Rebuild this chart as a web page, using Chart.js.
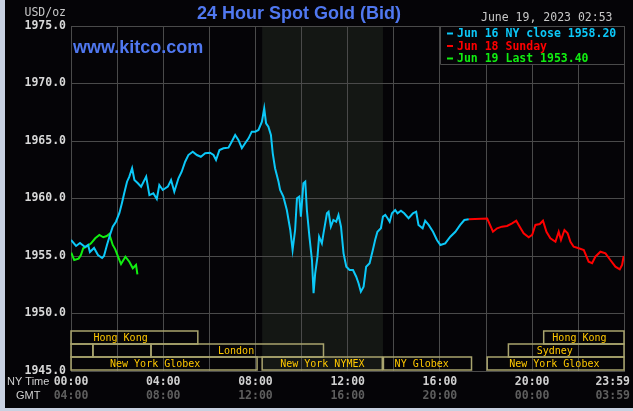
<!DOCTYPE html>
<html>
<head>
<meta charset="utf-8">
<script src="https://cdn.jsdelivr.net/npm/chart.js@4.4.0/dist/chart.umd.min.js"></script>
<style>
  body { margin: 0; background: #c9d1e1; }
  canvas { display: block; }
</style>
</head>
<body>
<canvas id="gold" width="633" height="411"></canvas>
<script>
// NY time in hours, bid in USD/oz
const jun16Hours = [
  0.00,0.22,0.39,0.61,0.74,0.82,1.00,1.17,1.35,1.43,
  1.56,1.69,1.81,1.95,2.10,2.21,2.31,2.43,2.53,2.65,
  2.75,2.89,3.04,3.26,3.40,3.57,3.72,3.83,3.98,4.20,
  4.34,4.48,4.66,4.80,4.95,5.09,5.28,5.46,5.63,5.82,
  6.03,6.18,6.29,6.44,6.61,6.83,6.97,7.12,7.26,7.41,
  7.55,7.70,7.84,7.99,8.13,8.28,8.38,8.46,8.56,8.67,
  8.75,8.85,9.00,9.07,9.21,9.36,9.51,9.61,9.72,9.80,
  9.90,9.97,10.08,10.16,10.23,10.34,10.45,10.52,10.59,10.69,
  10.76,10.88,10.95,11.10,11.17,11.27,11.38,11.50,11.60,11.71,
  11.82,11.94,12.08,12.23,12.37,12.47,12.57,12.69,12.80,12.95,
  13.09,13.19,13.29,13.44,13.53,13.63,13.73,13.82,13.92,14.06,
  14.16,14.31,14.45,14.64,14.83,14.97,15.07,15.25,15.36,15.51,
  15.70,15.87,16.02,16.23,16.45,16.67,16.88,17.06,17.25
];
const jun16Values = [
  1956.39,1955.87,1956.13,1955.78,1955.96,1955.35,1955.70,1955.09,1954.83,1955.00,
  1955.96,1956.83,1957.55,1957.98,1958.74,1959.61,1960.48,1961.46,1961.90,1962.63,
  1961.61,1961.35,1961.03,1961.90,1960.30,1960.45,1959.96,1961.17,1960.74,1961.03,
  1961.61,1960.59,1961.76,1962.33,1963.20,1963.78,1964.07,1963.78,1963.63,1963.93,
  1963.98,1963.78,1963.35,1964.22,1964.37,1964.42,1964.94,1965.52,1965.09,1964.37,
  1964.80,1965.23,1965.81,1965.81,1965.96,1966.68,1967.84,1966.54,1966.24,1965.52,
  1963.93,1962.63,1961.46,1960.74,1960.16,1959.00,1957.26,1955.52,1957.26,1960.02,
  1960.16,1958.42,1961.32,1961.46,1959.00,1956.68,1954.65,1951.76,1953.50,1954.94,
  1956.68,1956.10,1956.97,1958.71,1958.85,1957.55,1958.13,1957.98,1958.57,1957.55,
  1955.23,1954.07,1953.78,1953.78,1953.20,1952.63,1951.90,1952.33,1954.07,1954.37,
  1955.52,1956.39,1957.11,1957.41,1958.42,1958.57,1958.28,1957.98,1958.71,1959.00,
  1958.71,1958.94,1958.71,1958.28,1958.71,1958.85,1957.70,1957.41,1958.07,1957.70,
  1957.11,1956.39,1955.96,1956.10,1956.68,1957.11,1957.70,1958.13,1958.20
];

const jun18Hours = [
  17.25,18.05,18.30,18.48,18.69,18.91,19.13,19.31,19.46,19.63,
  19.85,20.00,20.14,20.33,20.47,20.62,20.79,21.01,21.15,21.25,
  21.40,21.54,21.66,21.80,22.02,22.24,22.45,22.60,22.74,22.96,
  23.18,23.39,23.61,23.80,23.90,23.97
];
const jun18Values = [
  1958.20,1958.25,1957.11,1957.41,1957.55,1957.61,1957.84,1958.07,1957.55,1956.97,
  1956.63,1956.83,1957.70,1957.78,1958.07,1957.11,1956.54,1956.24,1957.11,1956.39,
  1957.26,1956.97,1956.24,1955.81,1955.67,1955.52,1954.50,1954.37,1954.94,1955.37,
  1955.23,1954.65,1954.07,1953.84,1954.22,1955.00
];

const jun19Hours = [
  0.01,0.14,0.33,0.43,0.53,0.72,0.87,1.05,1.23,1.40,
  1.55,1.66,1.81,1.92,2.07,2.17,2.36,2.53,2.68,2.82,2.88
];
const jun19Values = [
  1955.29,1954.65,1954.77,1955.09,1955.67,1955.87,1956.10,1956.54,1956.83,1956.63,
  1956.74,1956.91,1955.96,1955.58,1954.80,1954.30,1954.94,1954.50,1953.93,1954.22,1953.40
];

const legendLabels = ['Jun 16 NY close 1958.20', 'Jun 18 Sunday', 'Jun 19 Last 1953.40'];
const seriesColors = ['#0cc8f8', '#ff0000', '#11ee11'];

const tickHours = [0, 4, 8, 12, 16, 20, 23.983];
const nyTickLabels = ['00:00', '04:00', '08:00', '12:00', '16:00', '20:00', '23:59'];
const gmtTickLabels = ['04:00', '08:00', '12:00', '16:00', '20:00', '00:00', '03:59'];

// trading sessions along the bottom (row 0 = top row)
const sessionNames = ['Hong Kong', '', '', 'London', 'New York Globex', 'New York NYMEX', 'NY Globex', 'Hong Kong', 'Sydney', 'New York Globex'];
const sessionRows = [0, 1, 1, 1, 2, 2, 2, 0, 1, 2];
const sessionStart = [0, 0, 0.95, 3.47, 0, 8.29, 13.55, 20.5, 18.97, 18.05];
const sessionEnd = [5.5, 0.95, 3.47, 10.95, 8.07, 13.5, 17.37, 23.983, 23.983, 23.983];
const sessionLabelAt = [2.15, 0, 0, 7.16, 3.65, 10.9, 15.21, 22.05, 20.98, 20.96];

const nymexShade = [8.29, 13.53];

const mono = '"DejaVu Sans Mono", monospace';
const sans = '"Liberation Sans", Arial, sans-serif';

function toPoints(hours, values) {
  return hours.map((h, i) => ({ x: h, y: values[i] }));
}

const decor = {
  id: 'decor',
  beforeDraw(chart) {
    const { ctx, chartArea: a, scales: { x } } = chart;
    ctx.save();
    ctx.fillStyle = '#c9d1e1';
    ctx.fillRect(0, 0, chart.width, chart.height);
    ctx.fillStyle = '#050407';
    ctx.fillRect(5, 0, chart.width - 5, 408);
    const s0 = x.getPixelForValue(nymexShade[0]);
    const s1 = x.getPixelForValue(nymexShade[1]);
    ctx.fillStyle = '#141714';
    ctx.fillRect(s0, a.top, s1 - s0, a.bottom - a.top);
    ctx.restore();
  },
  afterDraw(chart) {
    const { ctx, chartArea: a, scales: { x } } = chart;
    ctx.save();

    // sessions
    const rowH = 13;
    ctx.strokeStyle = '#a9a46e';
    ctx.lineWidth = 1.5;
    ctx.font = '10px ' + mono;
    ctx.fillStyle = '#ffc800';
    ctx.textAlign = 'center';
    ctx.textBaseline = 'middle';
    sessionNames.forEach((name, i) => {
      const top = a.bottom - 1 - (3 - sessionRows[i]) * rowH;
      const x0 = x.getPixelForValue(sessionStart[i]);
      const x1 = x.getPixelForValue(sessionEnd[i]);
      ctx.strokeRect(x0, top, x1 - x0, rowH);
      if (name) ctx.fillText(name, x.getPixelForValue(sessionLabelAt[i]), top + rowH / 2 + 1);
    });

    // legend box
    const lx = a.right - 184, ly = a.top, lh = 38;
    ctx.fillStyle = '#050407';
    ctx.fillRect(lx, ly + 1, a.right - lx - 1, lh);
    ctx.strokeStyle = '#4a4a4a';
    ctx.lineWidth = 1;
    ctx.beginPath();
    ctx.moveTo(lx + 0.5, ly);
    ctx.lineTo(lx + 0.5, ly + lh + 0.5);
    ctx.lineTo(a.right, ly + lh + 0.5);
    ctx.stroke();
    ctx.font = 'bold 11.5px ' + mono;
    ctx.textAlign = 'left';
    legendLabels.forEach((t, i) => {
      const yy = ly + 7.5 + i * 12.5;
      ctx.fillStyle = seriesColors[i];
      ctx.fillRect(lx + 7, yy - 1, 6, 2);
      ctx.fillText(t, lx + 17, yy + 1);
    });

    // titles
    ctx.textAlign = 'center';
    ctx.fillStyle = '#5078f0';
    ctx.font = 'bold 18px ' + sans;
    ctx.fillText('24 Hour Spot Gold (Bid)', 299, 14);
    ctx.textAlign = 'left';
    ctx.fillText('www.kitco.com', 73, 48);
    ctx.fillStyle = '#c8c8c8';
    ctx.font = '11.5px ' + mono;
    ctx.fillText('June 19, 2023 02:53', 481, 18);
    ctx.textAlign = 'right';
    ctx.fillText('USD/oz', 66, 13);

    // x labels
    ctx.textAlign = 'left';
    ctx.font = '11px ' + sans;
    ctx.fillStyle = '#d0d0d0';
    ctx.fillText('NY Time', 7, 382);
    ctx.fillText('GMT', 16, 396);
    ctx.font = 'bold 11.5px ' + mono;
    tickHours.forEach((h, i) => {
      const last = i === tickHours.length - 1;
      const px = last ? x.getPixelForValue(h) + 6 : x.getPixelForValue(h);
      ctx.textAlign = last ? 'right' : 'center';
      ctx.fillStyle = '#d0d0d0';
      ctx.fillText(nyTickLabels[i], px, 382);
      ctx.fillStyle = '#5e5e5e';
      ctx.fillText(gmtTickLabels[i], px, 396);
    });
    ctx.restore();
  }
};

new Chart(document.getElementById('gold'), {
  type: 'line',
  data: {
    datasets: [
      { data: toPoints(jun16Hours, jun16Values), borderColor: seriesColors[0] },
      { data: toPoints(jun18Hours, jun18Values), borderColor: seriesColors[1] },
      { data: toPoints(jun19Hours, jun19Values), borderColor: seriesColors[2] }
    ].map(d => ({ ...d, borderWidth: 2, pointRadius: 0, tension: 0, fill: false }))
  },
  options: {
    responsive: false,
    animation: false,
    layout: { padding: { left: 5, top: 26, right: 9, bottom: 40 } },
    plugins: { legend: { display: false }, tooltip: { enabled: false } },
    scales: {
      x: {
        type: 'linear',
        min: 0,
        max: 23.983,
        afterBuildTicks: (scale) => {
          const t = [];
          for (let h = 0; h <= 22; h += 2) t.push({ value: h });
          t.push({ value: 23.983 });
          scale.ticks = t;
        },
        ticks: { display: false },
        grid: { color: '#4a4a4a', drawTicks: false },
        border: { color: '#4a4a4a' }
      },
      y: {
        min: 1945,
        max: 1975,
        afterFit: (scale) => { scale.width = 66; },
        ticks: {
          stepSize: 5,
          padding: 5,
          color: '#d8d8d8',
          font: { family: mono, size: 11.5, weight: 'bold' },
          callback: (v) => v.toFixed(1)
        },
        grid: { color: '#4a4a4a', drawTicks: false },
        border: { color: '#4a4a4a' }
      }
    }
  },
  plugins: [decor]
});
</script>
</body>
</html>
